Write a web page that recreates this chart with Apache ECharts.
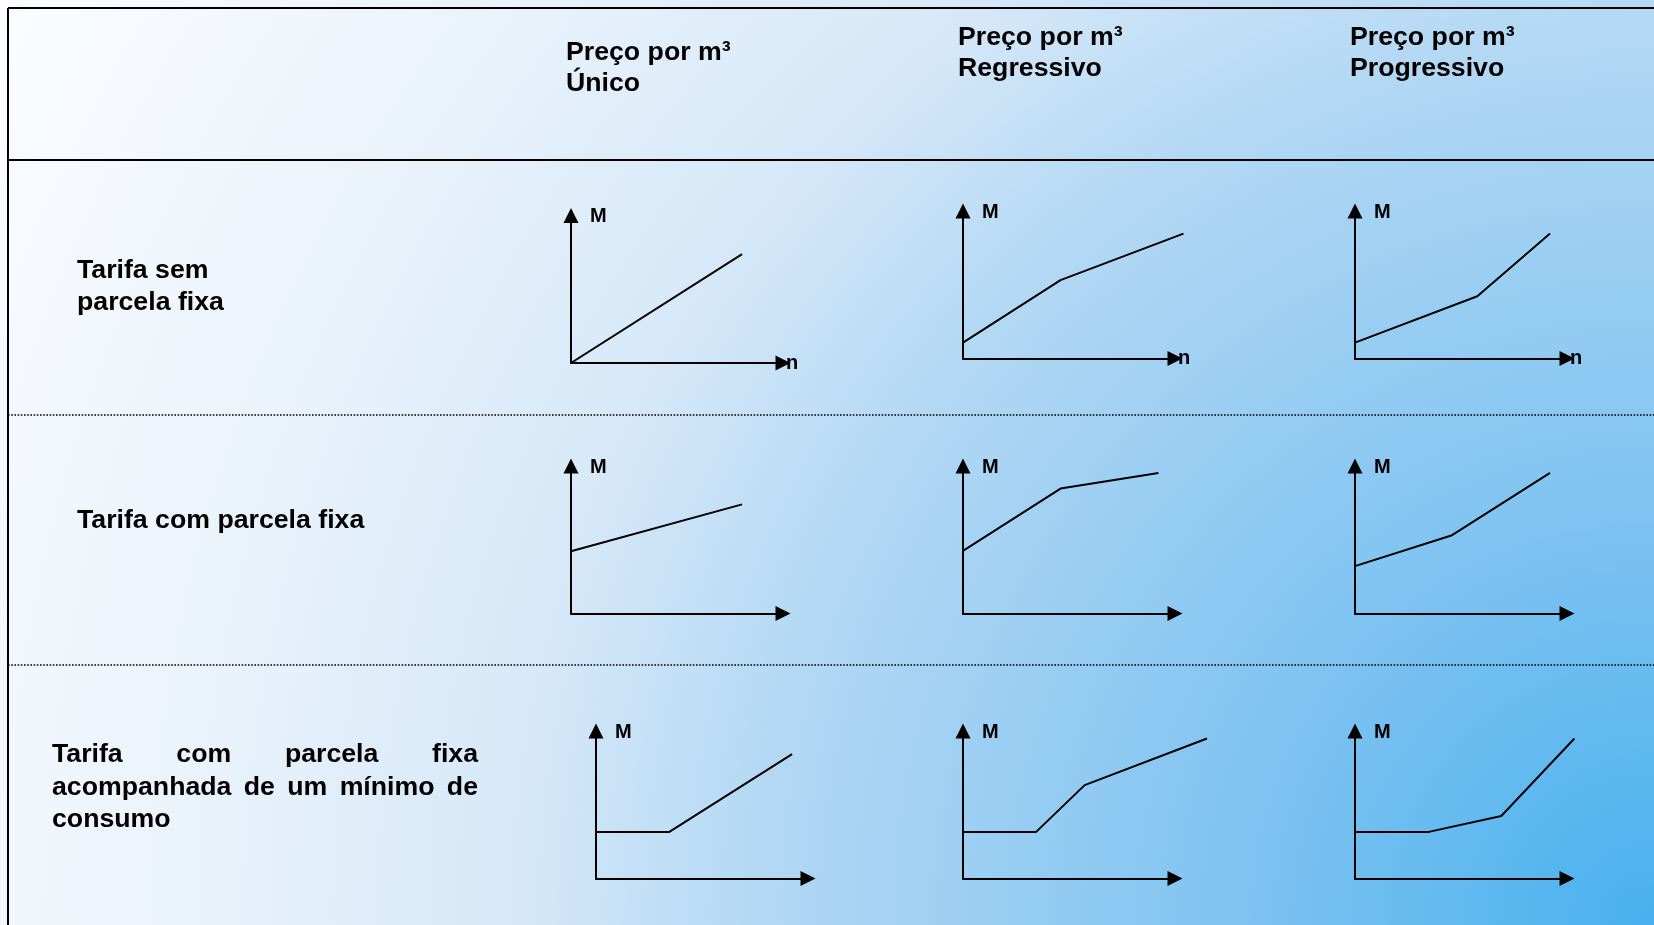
<!DOCTYPE html>
<html>
<head>
<meta charset="utf-8">
<script src="https://cdn.jsdelivr.net/npm/echarts@6/dist/echarts.min.js"></script>
<style>
  html, body { margin: 0; padding: 0; }
  #main { width: 1654px; height: 925px; }
</style>
</head>
<body>
<div id="main"></div>
<script>
// table texts
var colHeaders = [['Preço por m³', 'Único'], ['Preço por m³', 'Regressivo'], ['Preço por m³', 'Progressivo']];
var rowLabels = [['Tarifa sem', 'parcela fixa'], ['Tarifa com parcela fixa'], ['Tarifa com parcela fixa', 'acompanhada de um mínimo de', 'consumo']];
var axisNameY = 'M';
var axisNameX = 'n';

// curves M(n), values in % of each axis length (the line may run past the arrow)
var semFixaUnico = [[0, 0], [80.7, 73.8]];
var semFixaRegressivo = [[0, 10.8], [46, 53.1], [104, 84.7]];
var semFixaProgressivo = [[0, 10.8], [57.7, 42.2], [92, 84.7]];
var comFixaUnico = [[0, 42.2], [80.7, 74]];
var comFixaRegressivo = [[0, 42.4], [46, 84.7], [92.2, 95.3]];
var comFixaProgressivo = [[0, 32.1], [45.8, 53.1], [92, 95.3]];
var minimoUnico = [[0, 31.6], [34.6, 31.6], [92.5, 84.3]];
var minimoRegressivo = [[0, 31.6], [34.5, 31.6], [57.4, 63.3], [115.1, 94.9]];
var minimoProgressivo = [[0, 31.6], [34.8, 31.6], [69, 42.4], [103.5, 94.9]];

var curves = [
  [semFixaUnico, semFixaRegressivo, semFixaProgressivo],
  [comFixaUnico, comFixaRegressivo, comFixaProgressivo],
  [minimoUnico, minimoRegressivo, minimoProgressivo]
];

// layout of the small charts
var gridLeft = [[571, 963, 1355], [571, 963, 1355], [596, 963, 1355]];
var gridTop = [[215.5, 211, 211], [466, 466, 466], [731, 731, 731]];
var gridW = 212, gridH = 147.5;
var xRoom = 1.3; // the curve grid is wider than the drawn axis, same scale

var FONT = '"Liberation Sans", Arial, sans-serif';
var chart = echarts.init(document.getElementById('main'));

var grids = [], xAxes = [], yAxes = [], series = [];
var hidden = { axisLine: { show: false }, axisTick: { show: false }, axisLabel: { show: false }, splitLine: { show: false } };
var nameStyle = { fontFamily: FONT, fontWeight: 'bold', fontSize: 20, color: '#000' };

for (var r = 0; r < 3; r++) {
  for (var c = 0; c < 3; c++) {
    // grid with the drawn axes
    var a = grids.length;
    grids.push({ left: gridLeft[r][c], top: gridTop[r][c], width: gridW, height: gridH });
    var axisLine = {
      show: true, onZero: false,
      symbol: ['none', 'triangle'], symbolSize: [15, 15],
      lineStyle: { color: '#000', width: 2 }
    };
    xAxes.push(Object.assign({}, hidden, {
      type: 'value', gridIndex: a, min: 0, max: 100, axisLine: axisLine,
      name: r === 0 ? axisNameX : '', nameLocation: 'end', nameGap: 3,
      nameTextStyle: Object.assign({ align: 'left', verticalAlign: 'middle', padding: [0, 0, 5, 0] }, nameStyle)
    }));
    yAxes.push(Object.assign({}, hidden, {
      type: 'value', gridIndex: a, min: 0, max: 100, axisLine: axisLine,
      name: axisNameY, nameLocation: 'end', nameGap: -1,
      nameTextStyle: Object.assign({ align: 'left', verticalAlign: 'middle', padding: [0, 0, 0, 19] }, nameStyle)
    }));
    // grid carrying the curve
    var b = grids.length;
    grids.push({ left: gridLeft[r][c], top: gridTop[r][c], width: gridW * xRoom, height: gridH });
    xAxes.push(Object.assign({}, hidden, { type: 'value', gridIndex: b, min: 0, max: 100 * xRoom }));
    yAxes.push(Object.assign({}, hidden, { type: 'value', gridIndex: b, min: 0, max: 100 }));
    series.push({
      type: 'line', xAxisIndex: b, yAxisIndex: b, data: curves[r][c],
      symbol: 'none', clip: false, silent: true,
      lineStyle: { color: '#000', width: 2 }
    });
  }
}

// background, table rules and texts
var W = 1654, H = 925;
var graphics = [{
  type: 'rect', z: -10, silent: true,
  shape: { x: 0, y: 0, width: W, height: H },
  style: {
    fill: new echarts.graphic.RadialGradient(W, H, 1900, [
      { offset: 0, color: '#48b1ee' },
      { offset: 0.22, color: '#7fc3f1' },
      { offset: 0.47, color: '#b3d8f4' },
      { offset: 0.6, color: '#d6e8f8' },
      { offset: 0.78, color: '#ebf3fb' },
      { offset: 0.9, color: '#f4f8fd' },
      { offset: 1, color: '#fcfdff' }
    ], true)
  }
}];
function rule(x1, y1, x2, y2, dash) {
  graphics.push({
    type: 'line', silent: true, shape: { x1: x1, y1: y1, x2: x2, y2: y2 },
    style: { stroke: '#000', lineWidth: dash ? 1.6 : 2, lineDash: dash || null }
  });
}
rule(8, 8, W, 8);
rule(8, 8, 8, H);
rule(8, 160, W, 160);
rule(8, 415, W, 415, [1.6, 1.6]);
rule(8, 665, W, 665, [1.6, 1.6]);

var textFont = 'bold 26.7px ' + FONT;
function label(txt, x, y) {
  graphics.push({
    type: 'text', silent: true, x: x, y: y,
    style: { text: txt, font: textFont, fill: '#000', align: 'left', verticalAlign: 'middle' }
  });
}

var headerX = [566, 958, 1350];
var headerY = [[52.5, 84], [37.5, 69], [37.5, 69]];
colHeaders.forEach(function (lines, c) {
  lines.forEach(function (t, k) { label(t, headerX[c], headerY[c][k]); });
});

label(rowLabels[0][0], 77, 271);
label(rowLabels[0][1], 77, 303);
label(rowLabels[1][0], 77, 521);

// third label is justified between x0 and x1
var ctx = document.createElement('canvas').getContext('2d');
ctx.font = textFont;
function justified(txt, x0, x1, y) {
  var words = txt.split(' ');
  var widths = words.map(function (w) { return ctx.measureText(w).width; });
  var total = widths.reduce(function (s, v) { return s + v; }, 0);
  var gap = (x1 - x0 - total) / (words.length - 1);
  var x = x0;
  words.forEach(function (w, k) { label(w, x, y); x += widths[k] + gap; });
}
justified(rowLabels[2][0], 52, 478, 755);
justified(rowLabels[2][1], 52, 478, 787.5);
label(rowLabels[2][2], 52, 820);

chart.setOption({
  animation: false,
  grid: grids,
  xAxis: xAxes,
  yAxis: yAxes,
  series: series,
  graphic: graphics
});
</script>
</body>
</html>
